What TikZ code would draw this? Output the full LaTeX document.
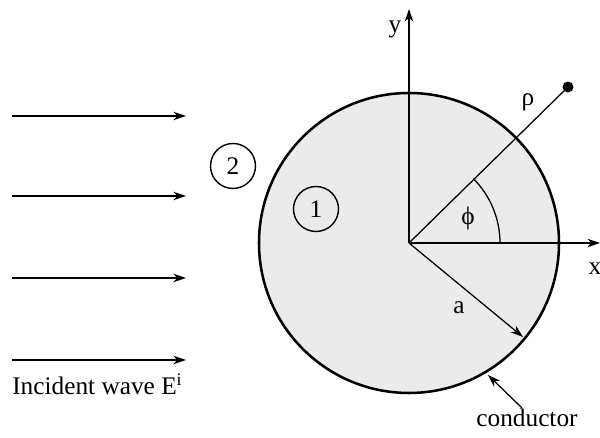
\documentclass[tikz,border=0pt]{standalone}
\usepackage{fontspec}
\setmainfont{Liberation Serif}
\usetikzlibrary{arrows.meta,calc}

\begin{document}
\begin{tikzpicture}[x=.025cm,y=.025cm,>={Stealth[length=9pt,width=6pt]},
  lbl/.style={font=\fontsize{18}{22}\selectfont,inner sep=0pt},
  region/.style={draw,circle,line width=1pt,minimum size=45*.025cm,inner sep=0pt,font=\fontsize{18}{22}\selectfont}]
\useasboundingbox (0,0) rectangle (600,438);
% cylinder
\coordinate (O) at (409,195);
\fill[black!8] (O) circle (150);
\draw[line width=1.8pt] (O) circle (150);
% axes
\coordinate (ytip) at (409,429);
\coordinate (xtip) at (600,195);
\draw[->,line width=1pt] (O) -- (ytip);
\draw[->,line width=1pt] (O) -- (xtip);
\node[lbl] (ylab) at (395,409){y};
\node[lbl] (xlab) at (595,169){x};
% observation point
\coordinate (P) at (568,351);
\draw[line width=.9pt] (O) -- (P);
\fill (P) circle (5.5);
\node[lbl] (rholab) at (528,336){ρ};
\draw[line width=.9pt] ($(O)+(91,0)$) arc (0:45:91);
\node[lbl] (philab) at (468,220){ϕ};
% radius
\coordinate (A) at (523,101);
\draw[->,line width=.9pt] (O) -- (A);
\node[lbl] (alab) at (459,130){a};
% conductor
\node[lbl] (cond) at (527,20){conductor};
\coordinate (C) at (488,63);
\draw[->,line width=.9pt] (522,30) -- (C);
% regions
\node[region] (r2) at (233,272){2};
\node[region] (r1) at (316,229){1};
% incident wave
\foreach \yy in {322,242,160,78}
  \draw[->,line width=1pt] (12,\yy) -- (186,\yy);
\node[lbl,anchor=west] (inc) at (12,54){Incident wave E\textsuperscript{i}};
\end{tikzpicture}
\end{document}
